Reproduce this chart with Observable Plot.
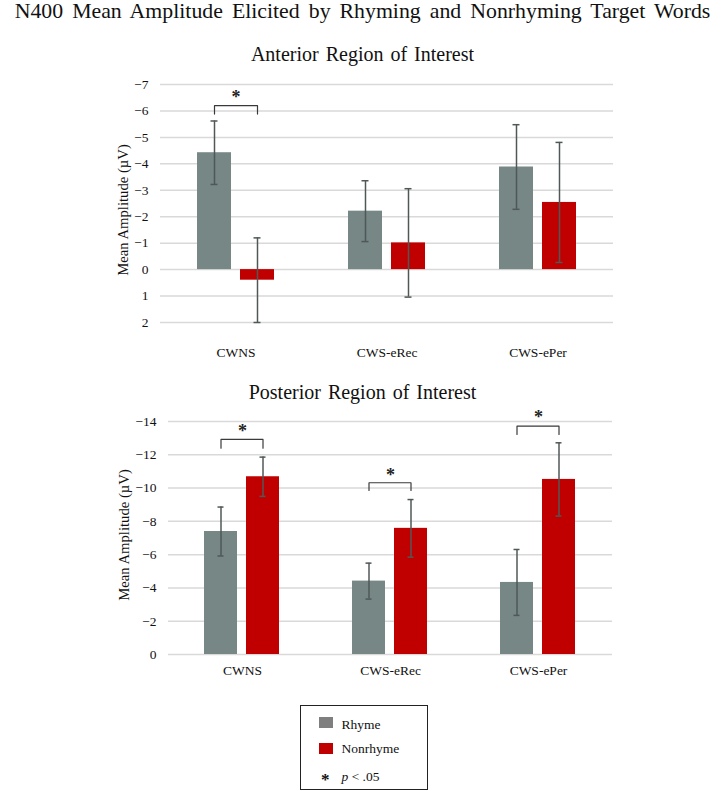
<!DOCTYPE html>
<html><head><meta charset="utf-8">
<script src="https://cdn.jsdelivr.net/npm/d3@7"></script>
<script src="https://cdn.jsdelivr.net/npm/@observablehq/plot@0.6"></script>
<style>
body{margin:0;background:#fff;}
#wrap{position:relative;width:725px;height:791px;font-family:"Liberation Serif","Times New Roman",serif;color:#111;overflow:hidden;background:#fff;}
.t{position:absolute;left:0;width:725px;text-align:center;white-space:nowrap;}
.ylab{position:absolute;white-space:nowrap;transform:translate(-50%,-50%) rotate(-90deg);font-size:14.7px;line-height:15px;color:#111;}
.chart{position:absolute;left:0;}
#legend{position:absolute;left:300px;top:705px;width:128px;height:85px;box-sizing:border-box;border:1.3px solid #222;font-size:13.5px;line-height:13.5px;}
#legend .sw{position:absolute;left:18px;width:14px;height:11px;}
#legend .lt{position:absolute;left:40.5px;white-space:nowrap;}
</style></head><body>
<div id="wrap">
  <div class="t" style="top:1px;left:8px;width:709px;font-size:21.8px;line-height:21.8px;word-spacing:3.6px">N400 Mean Amplitude Elicited by Rhyming and Nonrhyming Target Words</div>
  <div class="t" style="top:44px;font-size:20px;line-height:20px;word-spacing:2px">Anterior Region of Interest</div>
  <div class="t" style="top:382px;font-size:20px;line-height:20px;word-spacing:2px">Posterior Region of Interest</div>
  <div class="ylab" style="left:123px;top:210px">Mean Amplitude (µV)</div>
  <div class="ylab" style="left:124px;top:535px">Mean Amplitude (µV)</div>
  <div id="top" class="chart" style="top:70px"></div>
  <div id="bottom" class="chart" style="top:400px"></div>
  <div id="legend"></div>
</div>
<script>
// ---- data ----
const groups = ["CWNS", "CWS-eRec", "CWS-ePer"];
const series = ["Rhyme", "Nonrhyme"];
const seriesColors = ["#768785", "#c00000"];
const legendColors = ["#7f7f7f", "#c00000"];

// Anterior ROI (µV; negative plotted upward)
const antRhymeMean = [-4.42, -2.21, -3.88];
const antRhymeErr  = [1.2, 1.15, 1.6];
const antNonMean   = [0.4, -1.01, -2.54];
const antNonErr    = [1.6, 2.05, 2.27];
const antTicks     = [-7, -6, -5, -4, -3, -2, -1, 0, 1, 2];
const antSigGroups = ["CWNS"];
const antSigBar    = [-6.2];
const antSigLeg    = [-5.88];
const antSigStar   = [-6.5];

// Posterior ROI
const postRhymeMean = [-7.39, -4.41, -4.33];
const postRhymeErr  = [1.47, 1.08, 1.98];
const postNonMean   = [-10.68, -7.58, -10.52];
const postNonErr    = [1.18, 1.73, 2.2];
const postTicks     = [-14, -12, -10, -8, -6, -4, -2, 0];
const postSigGroups = ["CWNS", "CWS-eRec", "CWS-ePer"];
const postSigBar    = [-12.92, -10.32, -13.72];
const postSigLeg    = [-12.4, -9.86, -13.22];
const postSigStar   = [-13.4, -10.76, -14.24];

const legendLabels = ["Rhyme", "Nonrhyme"];

const fmt = d => d < 0 ? "\u2212" + (-d) : String(d);

function chart(o) {
  const rows = [];
  groups.forEach((g, i) => {
    rows.push({group: g, series: "Rhyme", v: o.rM[i], e: o.rE[i]});
    rows.push({group: g, series: "Nonrhyme", v: o.nM[i], e: o.nE[i]});
  });
  const br = [];
  o.sigG.forEach((g, i) => {
    br.push({id: i, group: g, series: "Rhyme", v: o.sigLeg[i]},
            {id: i, group: g, series: "Rhyme", v: o.sigBar[i]},
            {id: i, group: g, series: "Nonrhyme", v: o.sigBar[i]},
            {id: i, group: g, series: "Nonrhyme", v: o.sigLeg[i]});
  });
  const stars = o.sigG.map((g, i) => ({group: g, v: o.sigStar[i]}));
  const errCol = "#4f5857";
  return Plot.plot({
    width: 725, height: o.height,
    marginTop: o.mt, marginBottom: o.mb, marginLeft: o.ml, marginRight: o.mr,
    style: {fontFamily: '"Liberation Serif", "Times New Roman", serif', fontSize: "13.5px", color: "#111", background: "transparent", overflow: "visible"},
    fx: {domain: groups, padding: 0, label: null, tickSize: 0, tickPadding: o.fxPad},
    x: {domain: series, paddingInner: 0.21, paddingOuter: 0.86, axis: null},
    y: {domain: o.domain, reverse: true, ticks: o.ticks, tickSize: 0, tickPadding: o.yPad, tickFormat: fmt, label: null},
    color: {domain: series, range: seriesColors},
    marks: [
      Plot.ruleY(o.ticks, {stroke: "#d9d9d9", strokeWidth: 1.5}),
      Plot.barY(rows, {fx: "group", x: "series", y1: 0, y2: "v", fill: "series"}),
      Plot.ruleX(rows, {fx: "group", x: "series", y1: d => d.v - d.e, y2: d => d.v + d.e, stroke: errCol, strokeWidth: 1.5}),
      Plot.tickY(rows, {fx: "group", x: "series", y: d => d.v - d.e, stroke: errCol, strokeWidth: 1.5, insetLeft: 13.5, insetRight: 13.5}),
      Plot.tickY(rows, {fx: "group", x: "series", y: d => d.v + d.e, stroke: errCol, strokeWidth: 1.5, insetLeft: 13.5, insetRight: 13.5}),
      Plot.line(br, {fx: "group", x: "series", y: "v", z: "id", stroke: "#3a3a3a", strokeWidth: 1.2}),
      Plot.text(stars, {fx: "group", y: "v", text: () => "*", fontSize: 18, fontWeight: "bold", fill: "#222"})
    ]
  });
}

document.getElementById("top").append(chart({
  rM: antRhymeMean, rE: antRhymeErr, nM: antNonMean, nE: antNonErr,
  ticks: antTicks, domain: [-7, 2],
  sigG: antSigGroups, sigBar: antSigBar, sigLeg: antSigLeg, sigStar: antSigStar,
  height: 290, mt: 14, mb: 38, ml: 160, mr: 112, fxPad: 24.6, yPad: 12
}));
document.getElementById("bottom").append(chart({
  rM: postRhymeMean, rE: postRhymeErr, nM: postNonMean, nE: postNonErr,
  ticks: postTicks, domain: [-14, 0],
  sigG: postSigGroups, sigBar: postSigBar, sigLeg: postSigLeg, sigStar: postSigStar,
  height: 290, mt: 21, mb: 36, ml: 167, mr: 112, fxPad: 10.9, yPad: 12
}));

// legend
const lg = document.getElementById("legend");
const tops = [11, 36.5];
const textTops = [12.2, 36.3];
legendLabels.forEach((l, i) => {
  const sw = document.createElement("div");
  sw.className = "sw"; sw.style.top = tops[i] + "px"; sw.style.background = legendColors[i];
  lg.append(sw);
  const t = document.createElement("div");
  t.className = "lt"; t.style.top = textTops[i] + "px"; t.textContent = l;
  lg.append(t);
});
const st = document.createElement("div");
st.style.cssText = "position:absolute;left:20px;top:65px;font-size:17px;line-height:17px;font-weight:bold;";
st.textContent = "*";
lg.append(st);
const pt = document.createElement("div");
pt.className = "lt"; pt.style.top = "63.7px";
pt.innerHTML = "<i>p</i> &lt; .05";
lg.append(pt);
</script>
</body></html>
